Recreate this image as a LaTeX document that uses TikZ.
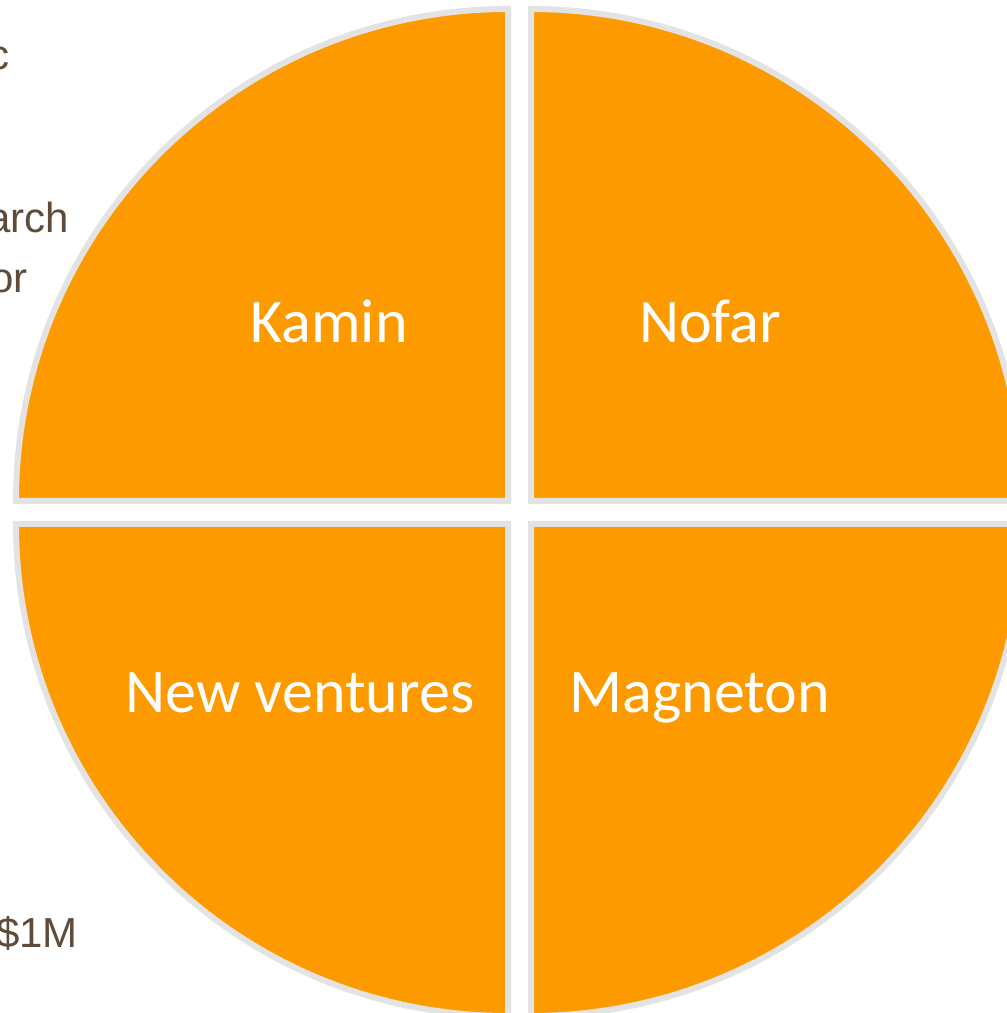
\documentclass[tikz,border=0pt]{standalone}
\usepackage{fontspec}
\setmainfont{Carlito}
\newfontfamily\sidefont{Liberation Sans}
\definecolor{pieorange}{HTML}{FD9A00}
\definecolor{piegray}{HTML}{E3E3E3}
\definecolor{sidebrown}{HTML}{5E4B3A}
\begin{document}
\begin{tikzpicture}[x=1pt,y=1pt,
  sector/.style={fill=pieorange,draw=piegray,line width=6pt,line join=miter},
  lbl/.style={text=white,anchor=base,inner sep=0pt,font=\fontsize{62}{74}\selectfont},
  side/.style={text=sidebrown,anchor=base east,inner sep=0pt,font=\sidefont\fontsize{42}{50}\selectfont}]
\useasboundingbox (0,0) rectangle (1007,1013);
\clip (0,0) rectangle (1007,1013);
% side text fragments
\node[side] (t1) at (10,943) {c};
\node[side] (t2) at (69,780) {arch};
\node[side] (t3) at (28,720) {or};
\node[side] (t4) at (78,65) {\$1M};
% sectors
\path[sector] (508,512) -- ++(180:492) arc[start angle=180,end angle=90,radius=492] -- cycle;
\path[sector] (531,512) -- ++(90:492) arc[start angle=90,end angle=0,radius=492] -- cycle;
\path[sector] (508,489) -- ++(270:492) arc[start angle=270,end angle=180,radius=492] -- cycle;
\path[sector] (531,489) -- ++(0:492) arc[start angle=0,end angle=-90,radius=492] -- cycle;
% labels
\node[lbl] (kamin) at (329,670) {Kamin};
\node[lbl] (nofar) at (710,670) {Nofar};
\node[lbl] (newv) at (300,300) {New ventures};
\node[lbl] (magn) at (700,300) {Magneton};
\end{tikzpicture}
\end{document}
